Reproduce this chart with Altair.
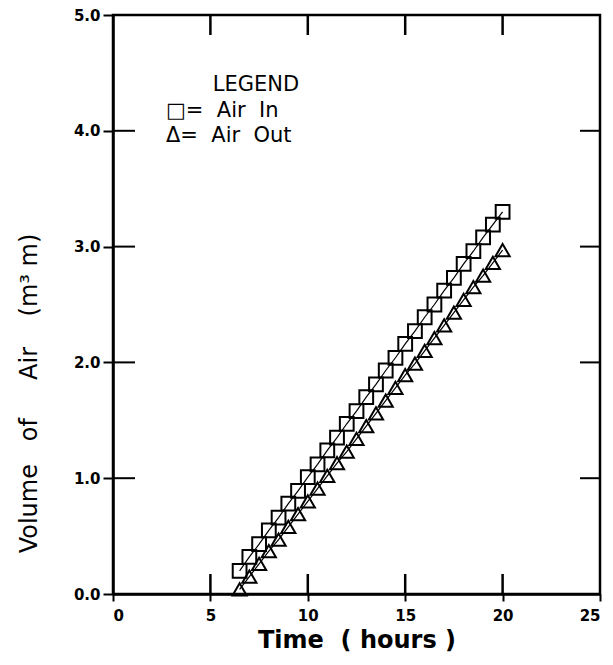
import altair as alt
import pandas as pd

# ---- data ----
hours = [6.5, 7.0, 7.5, 8.0, 8.5, 9.0, 9.5, 10.0, 10.5, 11.0, 11.5, 12.0, 12.5, 13.0,
         13.5, 14.0, 14.5, 15.0, 15.5, 16.0, 16.5, 17.0, 17.5, 18.0, 18.5, 19.0, 19.5, 20.0]
air_in = [0.20, 0.32, 0.43, 0.55, 0.66, 0.78, 0.89, 1.01, 1.12, 1.24, 1.35, 1.47, 1.58, 1.70,
          1.81, 1.93, 2.04, 2.16, 2.27, 2.39, 2.50, 2.62, 2.73, 2.85, 2.96, 3.08, 3.19, 3.30]
air_out = [0.04, 0.15, 0.26, 0.37, 0.47, 0.58, 0.69, 0.80, 0.91, 1.02, 1.13, 1.23, 1.34, 1.45,
           1.56, 1.67, 1.78, 1.89, 1.99, 2.10, 2.21, 2.32, 2.43, 2.54, 2.65, 2.75, 2.86, 2.97]
x_ticks = [0, 5, 10, 15, 20, 25]
y_ticks = [0.0, 1.0, 2.0, 3.0, 4.0, 5.0]
x_inner_ticks = [5, 10, 15, 20]
y_inner_ticks = [1.0, 2.0, 3.0, 4.0]
NB = "\u00a0"
legend_title = "LEGEND"
legend_in = "\u25a1=" + NB * 2 + "Air" + NB * 2 + "In"
legend_out = "\u0394=" + NB * 2 + "Air" + NB * 2 + "Out"

W, H = 487, 579

df_in = pd.DataFrame({"t": hours, "v": air_in})
df_out = pd.DataFrame({"t": hours, "v": air_out})

xs = alt.Scale(domain=[0, 25], nice=False, zero=False)
ys = alt.Scale(domain=[0, 5], nice=False, zero=False)

X = alt.X("t:Q", scale=xs,
          axis=alt.Axis(values=x_ticks, title="Time" + NB * 2 + "(" + NB + "hours" + NB + ")",
                        format="d", tickSize=7, labelPadding=7, titlePadding=5,
                        labelFontSize=15, labelFontWeight="bold",
                        titleFontSize=24, titleFontWeight="bold", grid=False))
Y = alt.Y("v:Q", scale=ys,
          axis=alt.Axis(values=y_ticks,
                        title="Volume" + NB * 3 + "of" + NB * 5 + "Air" + NB * 4 + "(m\u00b3" + NB + "m)",
                        format=".1f", tickSize=10, labelPadding=3,
                        labelFontSize=15, labelFontWeight="bold",
                        titleFontSize=24, titleFontWeight="normal",
                        titleY=378, titleX=-72, titleAngle=-90, titleAlign="center",
                        grid=False))

line_in = alt.Chart(df_in).mark_line(color="black", strokeWidth=1.2).encode(x=X, y=Y)
pts_in = alt.Chart(df_in).mark_point(shape="square", filled=False, color="black",
                                      size=190, strokeWidth=2, opacity=1).encode(x=X, y=Y)
line_out = alt.Chart(df_out).mark_line(color="black", strokeWidth=1.2).encode(x=X, y=Y)
pts_out = alt.Chart(df_out).mark_point(shape="triangle-up", filled=False, color="black",
                                       size=200, strokeWidth=2, opacity=1).encode(x=X, y=Y)

xt = pd.DataFrame({"t": x_inner_ticks})
yt = pd.DataFrame({"v": y_inner_ticks})
tick_bottom = alt.Chart(xt).mark_rule(color="black", strokeWidth=2.5).encode(
    x=X, y=alt.value(H), y2=alt.value(H - 20))
tick_top = alt.Chart(xt).mark_rule(color="black", strokeWidth=2.5).encode(
    x=X, y=alt.value(0), y2=alt.value(20))
tick_left = alt.Chart(yt).mark_rule(color="black", strokeWidth=2).encode(
    y=Y, x=alt.value(0), x2=alt.value(22))
tick_right = alt.Chart(yt).mark_rule(color="black", strokeWidth=2).encode(
    y=Y, x=alt.value(W), x2=alt.value(W - 20))

leg_df = pd.DataFrame({"txt": [legend_title]})
leg_title = alt.Chart(leg_df).mark_text(
    fontSize=21, font="DejaVu Sans", align="center", baseline="middle", color="black").encode(
    text="txt:N", x=alt.value(143), y=alt.value(70))
leg_in = alt.Chart(pd.DataFrame({"txt": [legend_in]})).mark_text(
    fontSize=21, font="DejaVu Sans", align="left", baseline="middle", color="black").encode(
    text="txt:N", x=alt.value(53), y=alt.value(96))
leg_out = alt.Chart(pd.DataFrame({"txt": [legend_out]})).mark_text(
    fontSize=21, font="DejaVu Sans", align="left", baseline="middle", color="black").encode(
    text="txt:N", x=alt.value(53), y=alt.value(121))

chart = alt.layer(
    line_in, line_out, pts_in, pts_out,
    tick_bottom, tick_top, tick_left, tick_right,
    leg_title, leg_in, leg_out,
).properties(
    width=W, height=H,
    padding={"left": 113, "top": 15, "right": 13, "bottom": 71},
    autosize=alt.AutoSizeParams(type="none"),
).configure_view(
    stroke="black", strokeWidth=2.5
).configure_axis(
    domainColor="black", domainWidth=2.5, tickColor="black", tickWidth=2,
    labelColor="black", titleColor="black", labelFont="DejaVu Sans", titleFont="DejaVu Sans"
)

chart.save("out.html", embed_options={"renderer": "svg", "actions": False})
